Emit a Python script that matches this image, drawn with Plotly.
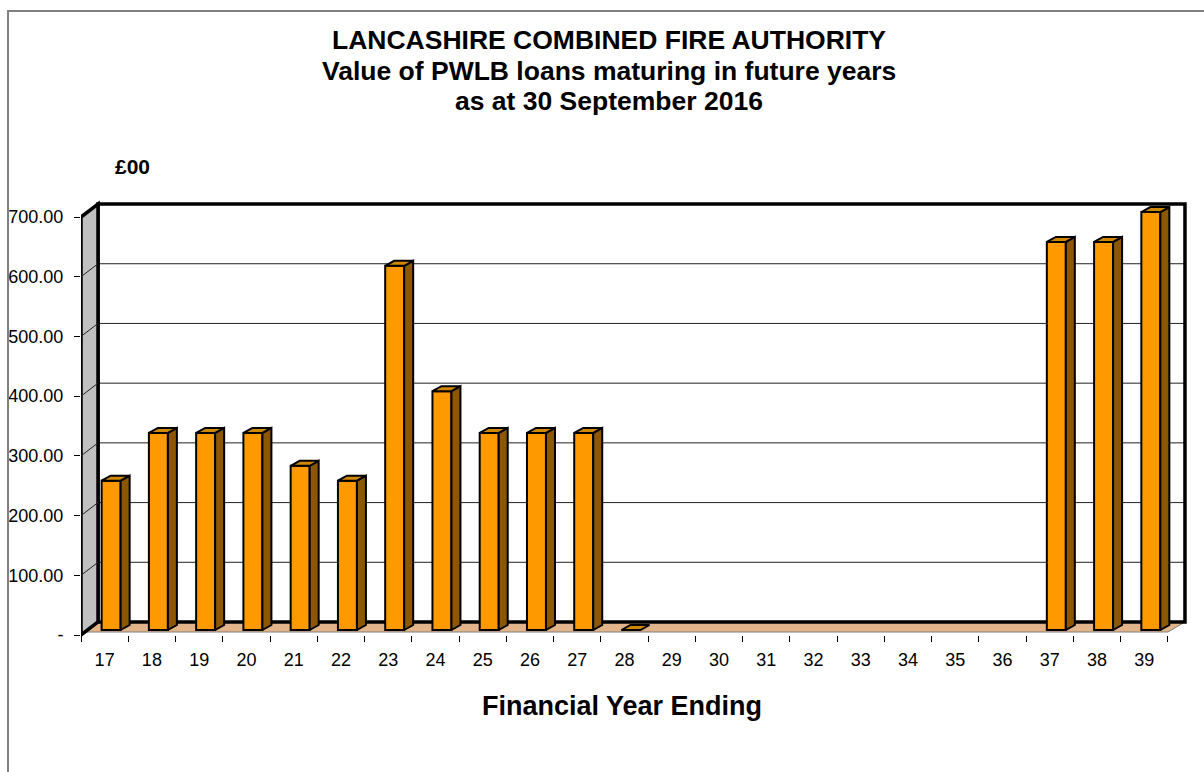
import plotly.graph_objects as go

# ---------------- data ----------------
years = ["17", "18", "19", "20", "21", "22", "23", "24", "25", "26", "27", "28",
         "29", "30", "31", "32", "33", "34", "35", "36", "37", "38", "39"]
values = [250, 330, 330, 330, 275, 250, 610, 400, 330, 330, 330, 0,
          None, None, None, None, None, None, None, None, 650, 650, 700]
y_ticks = [0, 100, 200, 300, 400, 500, 600, 700]
y_tick_text = ["-", "100.00", "200.00", "300.00", "400.00", "500.00", "600.00", "700.00"]

# ---------------- geometry ----------------
W, H = 1204, 772
SX = 47.26          # px per category (front plane)
SY = 0.5971         # px per unit (front plane)
X_LEFT_PX = 81      # front-left of category axis
X_RIGHT_PX = 1190
ZERO_PX = 635       # front-plane zero
Y_BOT_PX = 645
Y_TOP_PX = 198

x_range = [-0.5, -0.5 + (X_RIGHT_PX - X_LEFT_PX) / SX]
y_range = [-(Y_BOT_PX - ZERO_PX) / SY, (ZERO_PX - Y_TOP_PX) / SY]

DXW = 17 / SX       # wall depth in data units
DYW = 13 / SY
n = len(years)
xl, xr = -0.5, n - 0.5

# bar geometry (relative)
OX0 = -3 / SX
OX1 = 16 / SX
BASE = 5 / SY
BDX = 9 / SX
BDY = 5 / SY

FRONT = "#FF9900"
SIDE = "#8C5700"
TOP = "#D08800"

fig = go.Figure()

shapes = []
# back wall
shapes.append(dict(type="rect", xref="x", yref="y", layer="below",
                   x0=xl + DXW, x1=xr + DXW, y0=DYW, y1=700 + DYW,
                   fillcolor="white", line=dict(color="black", width=0)))
# floor
shapes.append(dict(type="path", xref="x", yref="y", layer="below",
                   path=f"M {xl},{BASE*0.6} L {xr},{BASE*0.6} L {xr+DXW},{DYW} L {xl+DXW},{DYW} Z",
                   fillcolor="#E3B48A", line=dict(color="#7F7F7F", width=1)))
# gridlines
for v in y_ticks[1:-1]:
    shapes.append(dict(type="line", xref="x", yref="y", layer="below",
                       x0=xl + DXW, x1=xr + DXW, y0=v + DYW, y1=v + DYW,
                       line=dict(color="#222222", width=1)))
# back wall border
shapes.append(dict(type="path", xref="x", yref="y", layer="below",
                   path=f"M {xl+DXW},{DYW} L {xl+DXW},{700+DYW} L {xr+DXW},{700+DYW} L {xr+DXW},{DYW} Z",
                   fillcolor="rgba(0,0,0,0)", line=dict(color="black", width=3.5)))
# left wall
shapes.append(dict(type="path", xref="x", yref="y", layer="below",
                   path=f"M {xl},0 L {xl},700 L {xl+DXW},{700+DYW} L {xl+DXW},{DYW} Z",
                   fillcolor="#C0C0C0", line=dict(color="black", width=3.5)))
for v in y_ticks[1:-1]:
    shapes.append(dict(type="line", xref="x", yref="y", layer="below",
                       x0=xl, x1=xl + DXW, y0=v, y1=v + DYW,
                       line=dict(color="#222222", width=1)))
# outer frame
shapes.append(dict(type="rect", xref="paper", yref="paper",
                   x0=8 / W, x1=1.02, y0=-0.02, y1=1 - 11 / H,
                   line=dict(color="#808080", width=2), fillcolor="rgba(0,0,0,0)"))

# bars: front faces
xs = list(range(n))
fig.add_trace(go.Bar(x=xs, y=values,
                     base=BASE, width=OX1 - OX0, offset=OX0,
                     marker=dict(color=FRONT, line=dict(color="black", width=2)),
                     hoverinfo="skip", showlegend=False))

# side and top faces
for i, v in enumerate(values):
    if v is None:
        continue
    x0, x1 = i + OX0, i + OX1
    top = BASE + v
    if v > 0:
        fig.add_trace(go.Scatter(
            x=[x1, x1, x1 + BDX, x1 + BDX, x1],
            y=[BASE, top, top + BDY, BASE + BDY, BASE],
            mode="lines", fill="toself", fillcolor=SIDE,
            line=dict(color="black", width=2), hoverinfo="skip", showlegend=False))
    fig.add_trace(go.Scatter(
        x=[x0, x1, x1 + BDX, x0 + BDX, x0],
        y=[top, top, top + BDY, top + BDY, top],
        mode="lines", fill="toself", fillcolor=TOP,
        line=dict(color="black", width=2), hoverinfo="skip", showlegend=False))

FONT = "Liberation Sans, Arial, sans-serif"

annotations = [
    dict(text="<b>LANCASHIRE COMBINED FIRE AUTHORITY</b>", x=609 / W, y=1 - 40 / H),
    dict(text="<b>Value of PWLB loans maturing in future years</b>", x=609 / W, y=1 - 71 / H),
    dict(text="<b>as at 30 September 2016</b>", x=609 / W, y=1 - 101 / H),
]
annotations = [dict(a, xref="paper", yref="paper", showarrow=False, xanchor="center",
                    yanchor="middle", font=dict(family=FONT, size=26.5, color="black"))
               for a in annotations]
annotations.append(dict(text="<b>£00</b>", x=132 / W, y=1 - 166 / H, xref="paper", yref="paper",
                        showarrow=False, xanchor="center", yanchor="middle",
                        font=dict(family=FONT, size=21, color="black")))
annotations.append(dict(text="<b>Financial Year Ending</b>", x=622 / W, y=1 - 706 / H,
                        xref="paper", yref="paper", showarrow=False, xanchor="center",
                        yanchor="middle", font=dict(family=FONT, size=27, color="black")))

fig.update_layout(
    width=W, height=H, autosize=False,
    margin=dict(l=0, r=0, t=0, b=0),
    paper_bgcolor="white", plot_bgcolor="rgba(0,0,0,0)",
    showlegend=False, barmode="overlay",
    shapes=shapes, annotations=annotations,
    xaxis=dict(range=x_range, domain=[X_LEFT_PX / W, X_RIGHT_PX / W],
               anchor="free", position=1 - ZERO_PX / H,
               tickmode="array", tickvals=xs, ticktext=years, ticks="",
               ticklabelstandoff=12,
               tickfont=dict(family=FONT, size=18, color="black"),
               showgrid=False, zeroline=False, showline=False,
               minor=dict(tickmode="array", tickvals=[i - 0.5 for i in range(n + 1)],
                          ticks="outside", ticklen=6, tickcolor="black", tickwidth=1,
                          showgrid=False)),
    yaxis=dict(range=y_range, domain=[1 - Y_BOT_PX / H, 1 - Y_TOP_PX / H],
               tickmode="array", tickvals=y_ticks, ticktext=y_tick_text,
               ticks="outside", ticklen=6, tickcolor="black",
               ticklabelstandoff=7,
               tickfont=dict(family=FONT, size=18, color="black"),
               showgrid=False, zeroline=False, showline=False),
)

fig.write_html("out.html")
